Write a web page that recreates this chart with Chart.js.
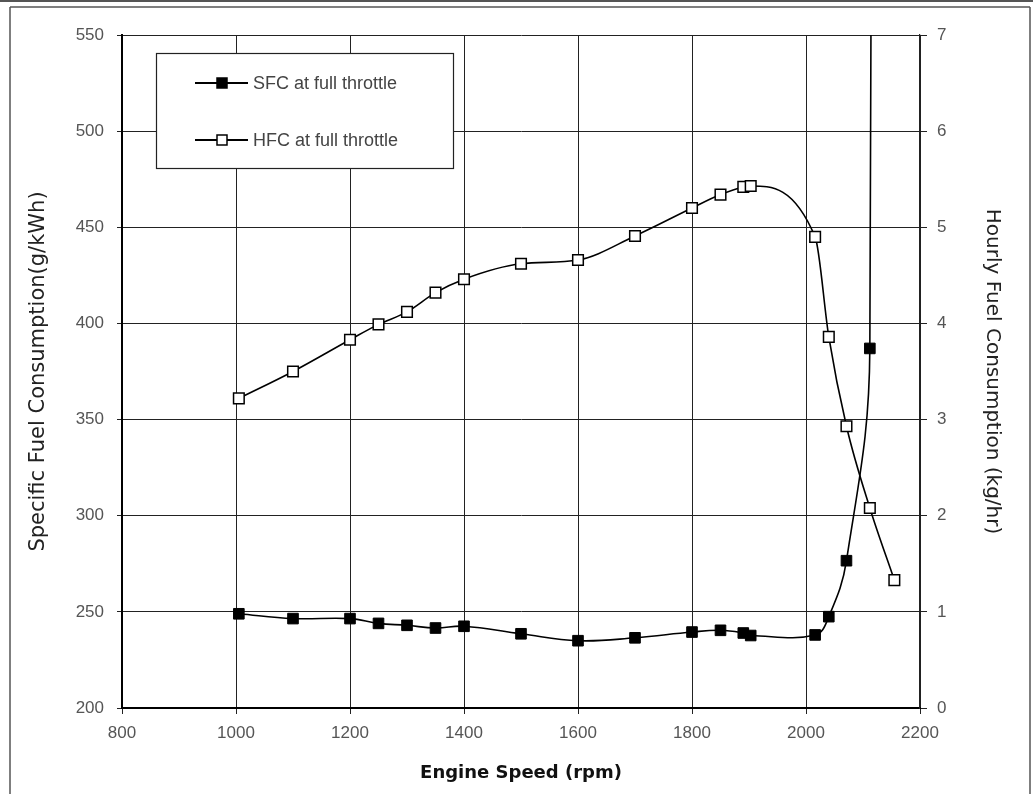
<!DOCTYPE html>
<html><head><meta charset="utf-8">
<script src="https://cdn.jsdelivr.net/npm/chart.js@4.4.0/dist/chart.umd.min.js"></script>
<style>html,body{margin:0;padding:0;background:#fff;}#wrap{width:1033px;height:794px;}</style>
</head><body><div id="wrap"><canvas id="c" width="1033" height="794"></canvas></div>
<script>
// ---- data ----
const engineSpeed = [1005, 1100, 1200, 1250, 1300, 1350, 1400, 1500, 1600, 1700, 1800, 1850, 1890, 1903, 2016, 2040, 2071, 2112, 2155];
const sfcFullThrottle = [249, 246.5, 246.5, 244, 243, 241.6, 242.5, 238.6, 235, 236.5, 239.5, 240.4, 239, 237.7, 238, 247.5, 276.6, 387, 5000];
const hfcFullThrottle = [3.22, 3.50, 3.83, 3.99, 4.12, 4.32, 4.46, 4.62, 4.66, 4.91, 5.20, 5.34, 5.42, 5.43, 4.90, 3.86, 2.93, 2.08, 1.33];
const speedTicks = [800, 1000, 1200, 1400, 1600, 1800, 2000, 2200];
const sfcTicks = [200, 250, 300, 350, 400, 450, 500, 550];
const hfcTicks = [0, 1, 2, 3, 4, 5, 6, 7];
const seriesNames = ['SFC at full throttle', 'HFC at full throttle'];
const axisTitles = {x: 'Engine Speed (rpm)', y: 'Specific Fuel Consumption(g/kWh)', y1: 'Hourly Fuel Consumption (kg/hr)'};

Chart.defaults.font.family = '"Liberation Sans", Arial, sans-serif';
Chart.defaults.color = '#555';

const toXY = vals => engineSpeed.map((s, i) => ({x: s, y: vals[i]}));
const plain = v => String(v);

const frame = {
  id: 'frame',
  beforeDraw(chart) {
    const ctx = chart.ctx;
    ctx.save();
    ctx.fillStyle = '#fff';
    ctx.fillRect(0, 0, chart.width, chart.height);
    ctx.strokeStyle = '#555';
    ctx.lineWidth = 2;
    ctx.beginPath(); ctx.moveTo(0, 1); ctx.lineTo(chart.width, 1); ctx.stroke();
    ctx.lineWidth = 1.5;
    ctx.beginPath(); ctx.moveTo(10, 7); ctx.lineTo(1030, 7); ctx.stroke();
    ctx.beginPath(); ctx.moveTo(10, 7); ctx.lineTo(10, chart.height); ctx.stroke();
    ctx.beginPath(); ctx.moveTo(1030, 7); ctx.lineTo(1030, chart.height); ctx.stroke();
    ctx.restore();
  }
};

const legendBox = {
  id: 'legendBox',
  afterDatasetsDraw(chart) {
    const ctx = chart.ctx;
    ctx.save();
    ctx.fillStyle = '#fff';
    ctx.fillRect(156, 53, 297, 115);
    ctx.strokeStyle = '#222';
    ctx.lineWidth = 1.2;
    ctx.strokeRect(156.5, 53.5, 297, 115);
    chart.data.datasets.forEach((ds, i) => {
      const y = i === 0 ? 83 : 140;
      ctx.strokeStyle = ds.borderColor;
      ctx.lineWidth = 2;
      ctx.beginPath(); ctx.moveTo(195, y); ctx.lineTo(248, y); ctx.stroke();
      ctx.fillStyle = ds.pointBackgroundColor;
      ctx.fillRect(217, y - 5, 10, 10);
      ctx.lineWidth = 1.5;
      ctx.strokeRect(217, y - 5, 10, 10);
      ctx.fillStyle = '#444';
      ctx.font = '18px "Liberation Sans", Arial, sans-serif';
      ctx.textBaseline = 'middle';
      ctx.fillText(ds.label, 253, y + 1);
    });
    ctx.restore();
  }
};

new Chart(document.getElementById('c'), {
  type: 'line',
  data: {
    datasets: [
      {
        label: seriesNames[0],
        data: toXY(sfcFullThrottle),
        yAxisID: 'y',
        borderColor: '#000',
        borderWidth: 1.6,
        pointStyle: 'rect',
        pointRadius: 7.5,
        pointBackgroundColor: '#000',
        pointBorderColor: '#000',
        pointBorderWidth: 1,
        tension: 0.4
      },
      {
        label: seriesNames[1],
        data: toXY(hfcFullThrottle),
        yAxisID: 'y1',
        borderColor: '#000',
        borderWidth: 1.6,
        pointStyle: 'rect',
        pointRadius: 7.5,
        pointBackgroundColor: '#fff',
        pointBorderColor: '#000',
        pointBorderWidth: 1.5,
        cubicInterpolationMode: 'monotone'
      }
    ]
  },
  options: {
    responsive: false,
    animation: false,
    devicePixelRatio: 1,
    layout: {padding: {top: 35, left: 0, right: 0, bottom: 0}},
    plugins: {legend: {display: false}, tooltip: {enabled: false}},
    scales: {
      x: {
        type: 'linear',
        min: 800, max: 2200,
        afterBuildTicks: s => { s.ticks = speedTicks.map(v => ({value: v})); },
        afterFit: s => { s.height = 86; },
        grid: {color: '#222', lineWidth: 1, tickLength: 6, drawTicks: true},
        border: {color: '#000', width: 2},
        ticks: {font: {size: 17}, color: '#555', padding: 9, maxRotation: 0, callback: plain},
        title: {display: true, text: axisTitles.x, color: '#111', font: {size: 18, weight: 'bold', family: '"DejaVu Sans", sans-serif'}, padding: {top: 0, bottom: 10}}
      },
      y: {
        type: 'linear', position: 'left',
        min: 200, max: 550,
        afterBuildTicks: s => { s.ticks = sfcTicks.map(v => ({value: v})); },
        afterFit: s => { s.width = 122; },
        grid: {color: '#222', lineWidth: 1, tickLength: 5},
        border: {color: '#000', width: 2},
        ticks: {font: {size: 17}, color: '#555', padding: 13, callback: plain},
        title: {display: true, text: axisTitles.y, color: '#222', font: {size: 21, family: '"DejaVu Sans", sans-serif'}, padding: {top: 26, bottom: 0}}
      },
      y1: {
        type: 'linear', position: 'right',
        min: 0, max: 7,
        afterBuildTicks: s => { s.ticks = hfcTicks.map(v => ({value: v})); },
        afterFit: s => { s.width = 113; },
        grid: {drawOnChartArea: false, color: '#222', tickLength: 7},
        border: {color: '#222', width: 1.2},
        ticks: {font: {size: 17}, color: '#555', padding: 10, callback: plain},
        title: {display: true, text: axisTitles.y1, color: '#222', font: {size: 20, family: '"DejaVu Sans", sans-serif'}, padding: {top: 29, bottom: 0}}
      }
    }
  },
  plugins: [frame, legendBox]
});
</script>
</body></html>
